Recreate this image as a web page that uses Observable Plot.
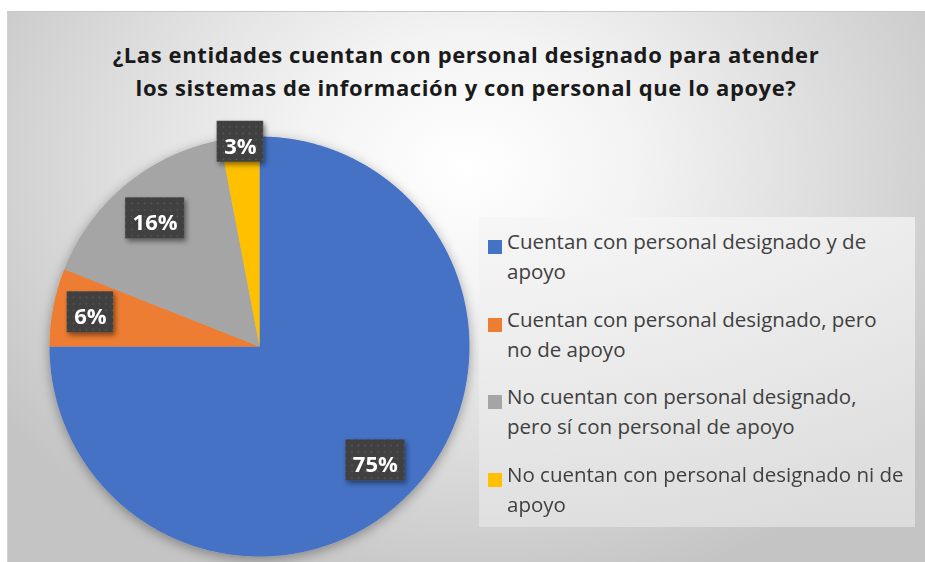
<!DOCTYPE html>
<html>
<head>
<meta charset="utf-8">
<script src="https://cdn.jsdelivr.net/npm/d3@7"></script>
<script src="https://cdn.jsdelivr.net/npm/@observablehq/plot@0.6"></script>
<style>
  html, body { margin: 0; padding: 0; background: #ffffff; }
  #wrap { position: relative; width: 925px; height: 562px; overflow: hidden; font-family: "Open Sans", Lato, sans-serif; }
  #frame { position: absolute; left: 7px; top: 11px; width: 918px; height: 551px;
    background: radial-gradient(ellipse 62% 80% at 50% 28%, #ffffff 0%, #f3f3f3 30%, #dcdcdc 65%, #c4c4c4 100%);
    border-top: 1px solid #c8c8c8; border-left: 1px solid #d0d0d0; box-sizing: border-box; }
  #title { position: absolute; left: 7px; width: 918px; top: 38px; text-align: center;
    font-weight: bold; font-size: 22px; line-height: 33px; color: #1a1a1a; letter-spacing: 0.6px; }
  #chart { position: absolute; left: 0; top: 0; }
  #legend { position: absolute; left: 479px; top: 217px; width: 436px; height: 310px;
    background: linear-gradient(180deg, rgba(245,245,245,0.75), rgba(228,228,228,0.75)); }
  .item { position: absolute; left: 9px; }
  .sw { position: absolute; left: 0; top: 5px; width: 14px; height: 14px; }
  .tx { position: absolute; left: 19px; top: -9px; white-space: pre; font-size: 20.5px; line-height: 30px; color: #404040; }
</style>
</head>
<body>
<div id="wrap">
  <div id="frame"></div>
  <div id="title">¿Las entidades cuentan con personal designado para atender<br>los sistemas de información y con personal que lo apoye?</div>
  <div id="chart"></div>
  <div id="legend"></div>
</div>
<script>
const categories = [
  "Cuentan con personal designado y de\napoyo",
  "Cuentan con personal designado, pero\nno de apoyo",
  "No cuentan con personal designado,\npero sí con personal de apoyo",
  "No cuentan con personal designado ni de\napoyo"
];
const values = [75, 6, 16, 3];
const labels = ["75%", "6%", "16%", "3%"];
const colors = ["#4472C4", "#ED7D31", "#A5A5A5", "#FFC000"];

const arcs = d3.pie().sort(null)(values);

// slice outlines in unit coordinates (angle clockwise from 12 o'clock)
const pts = [];
arcs.forEach((a, i) => {
  const k = categories[i];
  pts.push({k, x: 0, y: 0});
  const n = Math.max(2, Math.ceil((a.endAngle - a.startAngle) / 0.005));
  for (let j = 0; j <= n; j++) {
    const t = a.startAngle + (a.endAngle - a.startAngle) * j / n;
    pts.push({k, x: Math.sin(t), y: Math.cos(t)});
  }
  pts.push({k, x: 0, y: 0});
});

const labelData = arcs.map((a, i) => {
  const m = (a.startAngle + a.endAngle) / 2;
  const v = values[i];
  const r = v >= 10 ? 0.78 : v >= 5 ? 0.82 : 0.97;
  return {k: categories[i], label: labels[i], x: r * Math.sin(m), y: r * Math.cos(m)};
});

const W = 925, H = 562;
const plot = Plot.plot({
  width: W, height: H,
  marginLeft: 49, marginRight: W - 469, marginTop: 136, marginBottom: H - 556,
  x: {domain: [-1, 1], axis: null},
  y: {domain: [-1, 1], axis: null},
  color: {domain: categories, range: colors},
  style: {background: "transparent", overflow: "visible"},
  marks: [
    Plot.line(pts, {x: "x", y: "y", z: "k", fill: "k", stroke: "none", curve: "linear"}),
    Plot.text(labelData, {x: "x", y: "y", dy: 3, text: "label", fill: "white", fontWeight: "bold", fontSize: 22, fontFamily: "'Open Sans', Lato, sans-serif"})
  ]
});
document.getElementById("chart").appendChild(plot);

// defs: shadows and dotted label pattern
const ns = "http://www.w3.org/2000/svg";
const defs = document.createElementNS(ns, "defs");
defs.innerHTML = `
  <filter id="pieShadow" x="-20%" y="-20%" width="140%" height="140%">
    <feDropShadow dx="0" dy="3" stdDeviation="6" flood-color="#000" flood-opacity="0.35"/>
  </filter>
  <filter id="boxShadow" x="-30%" y="-30%" width="160%" height="160%">
    <feDropShadow dx="2" dy="3" stdDeviation="2.5" flood-color="#000" flood-opacity="0.45"/>
  </filter>
  <pattern id="dots" width="6.5" height="6.5" patternUnits="userSpaceOnUse">
    <rect width="6.5" height="6.5" fill="#404040"/>
    <rect x="2.5" y="2.5" width="1.4" height="1.4" fill="#5e5e5e"/>
  </pattern>`;
plot.insertBefore(defs, plot.firstChild);

const lineG = plot.querySelector('g[aria-label="line"]');
if (lineG) lineG.setAttribute("filter", "url(#pieShadow)");

const textG = plot.querySelector('g[aria-label="text"]');
if (textG) {
  const boxG = document.createElementNS(ns, "g");
  boxG.setAttribute("filter", "url(#boxShadow)");
  textG.parentNode.insertBefore(boxG, textG);
  textG.querySelectorAll("text").forEach(t => {
    const b = t.getBBox();
    const ctm = t.getAttribute("transform");
    const r = document.createElementNS(ns, "rect");
    const w = b.width + 14, h = 41;
    const cx = b.x + b.width / 2, cy = b.y + b.height / 2;
    r.setAttribute("x", cx - w / 2);
    r.setAttribute("y", cy - h / 2);
    r.setAttribute("width", w);
    r.setAttribute("height", h);
    r.setAttribute("fill", "url(#dots)");
    if (ctm) r.setAttribute("transform", ctm);
    boxG.appendChild(r);
  });
}

// legend
const leg = document.getElementById("legend");
categories.forEach((c, i) => {
  const it = document.createElement("div");
  it.className = "item";
  it.style.top = (18 + i * 77.5) + "px";
  it.innerHTML = `<div class="sw" style="background:${colors[i]}"></div><div class="tx"></div>`;
  it.querySelector(".tx").textContent = c;
  leg.appendChild(it);
});
</script>
</body>
</html>
